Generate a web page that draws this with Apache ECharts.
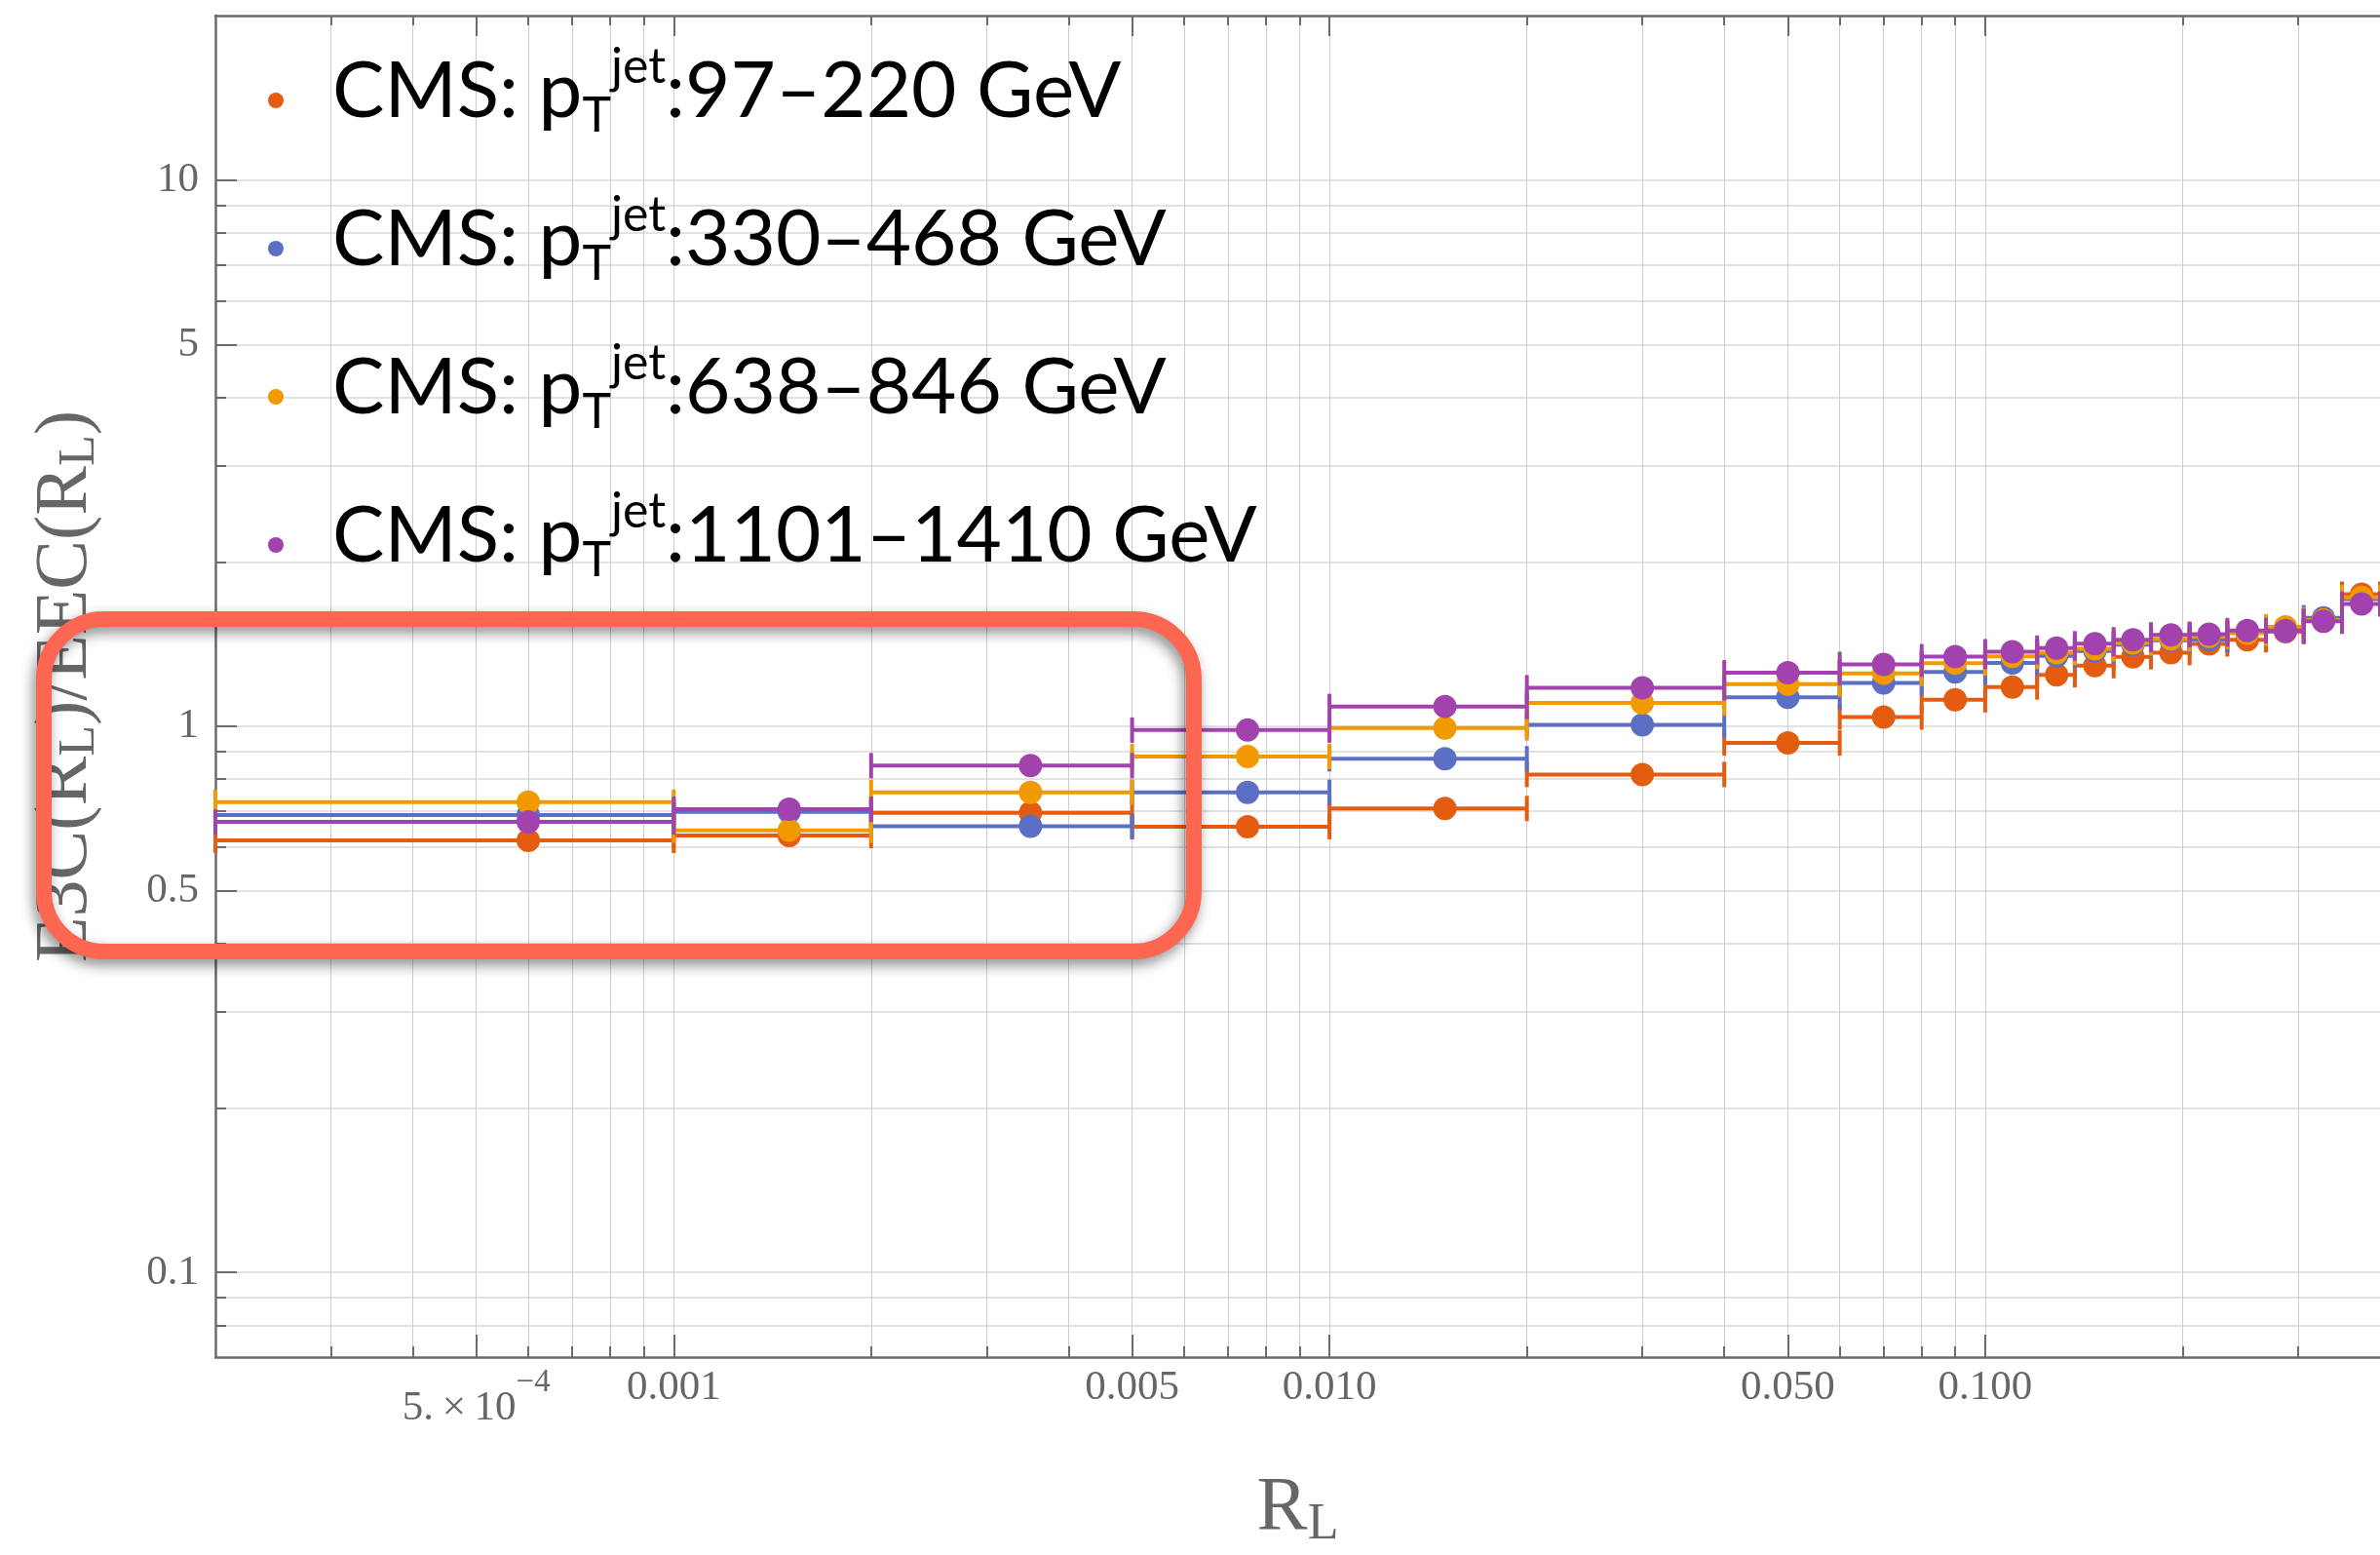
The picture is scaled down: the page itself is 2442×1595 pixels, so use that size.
<!DOCTYPE html>
<html>
<head>
<meta charset="utf-8">
<script src="https://cdn.jsdelivr.net/npm/echarts@6/dist/echarts.min.js"></script>
<style>
  html, body { margin: 0; padding: 0; background: #ffffff; }
  #chart { width: 2442px; height: 1595px; }
</style>
</head>
<body>
<div id="chart"></div>
<script>
// R_L bins: lower edge, upper edge, and the point position inside each bin
const binLow    = [0.0002, 0.001, 0.002, 0.005, 0.01, 0.02, 0.04, 0.06, 0.08, 0.10, 0.12, 0.137, 0.157, 0.179, 0.205, 0.234, 0.268, 0.306, 0.35];
const binHigh   = [0.001, 0.002, 0.005, 0.01, 0.02, 0.04, 0.06, 0.08, 0.10, 0.12, 0.137, 0.157, 0.179, 0.205, 0.234, 0.268, 0.306, 0.35, 0.40];
const binCenter = [0.0006, 0.0015, 0.0035, 0.0075, 0.015, 0.03, 0.05, 0.07, 0.09, 0.11, 0.1285, 0.147, 0.168, 0.192, 0.2195, 0.251, 0.287, 0.328, 0.375];

// E3C/EEC ratio per jet pT range
const ratioPt97   = [0.618, 0.631, 0.694, 0.655, 0.707, 0.816, 0.932, 1.040, 1.118, 1.180, 1.242, 1.291, 1.340, 1.364, 1.415, 1.440, 1.490, 1.560, 1.745];
const ratioPt330  = [0.688, 0.697, 0.656, 0.757, 0.872, 1.006, 1.130, 1.200, 1.257, 1.306, 1.345, 1.373, 1.411, 1.437, 1.440, 1.485, 1.495, 1.580, 1.710];
const ratioPt638  = [0.726, 0.645, 0.757, 0.880, 0.993, 1.103, 1.194, 1.250, 1.305, 1.343, 1.364, 1.386, 1.420, 1.444, 1.460, 1.480, 1.520, 1.565, 1.721];
const ratioPt1101 = [0.668, 0.705, 0.847, 0.984, 1.087, 1.176, 1.253, 1.298, 1.341, 1.369, 1.390, 1.416, 1.440, 1.470, 1.474, 1.497, 1.497, 1.557, 1.674];

const ptRanges = ['97–220', '330–468', '638–846', '1101–1410'];
const seriesValues = [ratioPt97, ratioPt330, ratioPt638, ratioPt1101];
const seriesColors = ['#e45c10', '#5d6fc4', '#f09a00', '#a243ad'];

// axis ticks and their labels
const xMajorTicks  = [0.0005, 0.001, 0.005, 0.01, 0.05, 0.1];
const xMajorLabels = ['{base|5.\u2009×\u200910}{sup|−4}', '0.001', '0.005', '0.010', '0.050', '0.100'];
const xAllTicks = [0.0003, 0.0004, 0.0005, 0.0006, 0.0007, 0.0008, 0.0009,
                   0.001, 0.002, 0.003, 0.004, 0.005, 0.006, 0.007, 0.008, 0.009,
                   0.01, 0.02, 0.03, 0.04, 0.05, 0.06, 0.07, 0.08, 0.09,
                   0.1, 0.2, 0.3];
const yMajorTicks  = [0.1, 0.5, 1, 5, 10];
const yMajorLabels = ['0.1', '0.5', '1', '5', '10'];
const yAllTicks = [0.08, 0.09, 0.1, 0.2, 0.3, 0.4, 0.5, 0.6, 0.7, 0.8, 0.9,
                   1, 2, 3, 4, 5, 6, 7, 8, 9, 10];

const X_MIN = 0.0002, X_MAX = 0.4, Y_MIN = 0.07, Y_MAX = 20;

const AXIS_GREY = '#6b6b6b';
const LABEL_GREY = '#666666';
const SERIF = '"Liberation Serif", "Times New Roman", serif';

function labelFor(ticks, labels) {
  return function (v) {
    let best = 0, bestDist = Infinity;
    ticks.forEach(function (t, i) {
      const d = Math.abs(Math.log10(v) - Math.log10(t));
      if (d < bestDist) { bestDist = d; best = i; }
    });
    return labels[best];
  };
}

function logAxis(extra) {
  return Object.assign({
    type: 'log',
    logBase: 10,
    splitLine: { show: false },
    minorTick: { show: false },
    minorSplitLine: { show: false },
    axisLabel: { show: false },
    axisLine: { show: false, onZero: false }
  }, extra);
}

const tickStyle = { color: AXIS_GREY, width: 2 };

const xAxes = [
  // bottom: frame line, long ticks and labels
  logAxis({
    min: X_MIN, max: X_MAX, position: 'bottom',
    axisLine: { show: true, onZero: false, lineStyle: { color: AXIS_GREY, width: 2.5 } },
    axisTick: { show: true, inside: true, length: 23, customValues: xMajorTicks, lineStyle: tickStyle },
    axisLabel: {
      show: true, customValues: xMajorTicks, margin: 10,
      formatter: labelFor(xMajorTicks, xMajorLabels),
      fontFamily: SERIF, fontSize: 43, color: LABEL_GREY,
      rich: {
        base: { fontFamily: SERIF, fontSize: 43, color: LABEL_GREY, lineHeight: 43, verticalAlign: 'bottom' },
        sup:  { fontFamily: SERIF, fontSize: 33, color: LABEL_GREY, lineHeight: 64, verticalAlign: 'top' }
      }
    },
    name: '{m|R}{s|L}',
    nameLocation: 'middle',
    nameGap: 114,
    nameTextStyle: {
      rich: {
        m: { fontFamily: SERIF, fontSize: 78, color: LABEL_GREY, lineHeight: 84 },
        s: { fontFamily: SERIF, fontSize: 52, color: LABEL_GREY, lineHeight: 43, verticalAlign: 'bottom' }
      }
    }
  }),
  // bottom: short ticks and vertical grid lines
  logAxis({
    min: X_MIN, max: X_MAX, position: 'bottom',
    axisTick: { show: true, inside: true, length: 11, customValues: xAllTicks, lineStyle: tickStyle },
    splitLine: { show: true, lineStyle: { color: '#cdcdcd', width: 1 } }
  }),
  // top frame with short ticks
  logAxis({
    min: X_MIN, max: X_MAX, position: 'top',
    axisLine: { show: true, onZero: false, lineStyle: { color: AXIS_GREY, width: 2.5 } },
    axisTick: { show: true, inside: true, length: 10, customValues: xAllTicks, lineStyle: tickStyle }
  }),
  // top frame long ticks
  logAxis({
    min: X_MIN, max: X_MAX, position: 'top',
    axisTick: { show: true, inside: true, length: 21, customValues: xMajorTicks, lineStyle: tickStyle }
  })
];

const yAxes = [
  logAxis({
    min: Y_MIN, max: Y_MAX, position: 'left',
    axisLine: { show: true, onZero: false, lineStyle: { color: AXIS_GREY, width: 2.5 } },
    axisTick: { show: true, inside: true, length: 22, customValues: yMajorTicks, lineStyle: tickStyle },
    axisLabel: {
      show: true, customValues: yMajorTicks, margin: 17,
      formatter: labelFor(yMajorTicks, yMajorLabels),
      fontFamily: SERIF, fontSize: 43, color: LABEL_GREY
    },
    name: '{m|E3C(R}{s|L}{m|)/EEC(R}{s|L}{m|)}',
    nameLocation: 'middle',
    nameRotate: 90,
    nameGap: 113,
    nameTextStyle: {
      rich: {
        m: { fontFamily: SERIF, fontSize: 76, color: LABEL_GREY, lineHeight: 80 },
        s: { fontFamily: SERIF, fontSize: 52, color: LABEL_GREY, lineHeight: 41, verticalAlign: 'bottom' }
      }
    }
  }),
  logAxis({
    min: Y_MIN, max: Y_MAX, position: 'left', offset: 0,
    axisTick: { show: true, inside: true, length: 11, customValues: yAllTicks, lineStyle: tickStyle },
    splitLine: { show: true, lineStyle: { color: '#d8d8d8', width: 1.5 } }
  })
];

// horizontal bin-width bar with end caps and a filled point
function renderBinPoint(params, api) {
  const y = api.value(2);
  const lo = api.coord([api.value(0), y]);
  const hi = api.coord([api.value(1), y]);
  const c = api.coord([api.value(3), y]);
  const color = api.visual('color');
  const capHalf = 13;
  const lineStyle = { stroke: color, lineWidth: 4 };
  return {
    type: 'group',
    children: [
      { type: 'line', shape: { x1: lo[0], y1: lo[1], x2: hi[0], y2: hi[1] }, style: lineStyle },
      { type: 'line', shape: { x1: lo[0], y1: lo[1] - capHalf, x2: lo[0], y2: lo[1] + capHalf }, style: lineStyle },
      { type: 'line', shape: { x1: hi[0], y1: hi[1] - capHalf, x2: hi[0], y2: hi[1] + capHalf }, style: lineStyle },
      { type: 'circle', shape: { cx: c[0], cy: c[1], r: 12 }, style: { fill: color } }
    ]
  };
}

const series = ptRanges.map(function (range, k) {
  return {
    type: 'custom',
    name: range,
    xAxisIndex: 0,
    yAxisIndex: 0,
    itemStyle: { color: seriesColors[k] },
    renderItem: renderBinPoint,
    encode: { x: [0, 1, 3], y: 2 },
    data: binLow.map(function (lo, i) {
      return [lo, binHigh[i], seriesValues[k][i], binCenter[i]];
    }),
    z: 2 + k
  };
});

const chart = echarts.init(document.getElementById('chart'), null, { renderer: 'canvas' });
chart.setOption({
  animation: false,
  backgroundColor: '#ffffff',
  grid: { left: 221, right: -8, top: 16, bottom: 202, containLabel: false },
  xAxis: xAxes,
  yAxis: yAxes,
  legend: {
    orient: 'vertical',
    left: 275,
    top: 44,
    padding: 0,
    itemGap: 52,
    itemWidth: 16,
    itemHeight: 16,
    icon: 'circle',
    selectedMode: false,
    data: ptRanges,
    formatter: function (name) {
      return '{m|CMS: p}{sub|T}{sup|jet}{m|:' + name + ' GeV}';
    },
    textStyle: {
      color: '#000000',
      fontFamily: 'Lato, sans-serif',
      fontSize: 80,
      padding: [0, 0, 18, 45],
      rich: {
        m:   { fontFamily: 'Lato, sans-serif', fontSize: 80, color: '#000000', lineHeight: 100 },
        sub: { fontFamily: 'Lato, sans-serif', fontSize: 50, color: '#000000', lineHeight: 53, verticalAlign: 'bottom' },
        sup: { fontFamily: 'Lato, sans-serif', fontSize: 50, color: '#000000', lineHeight: 57, verticalAlign: 'top' }
      }
    }
  },
  graphic: [{
    type: 'rect',
    z: 100,
    silent: true,
    shape: { x: 45, y: 635, width: 1180, height: 341, r: 62 },
    style: {
      fill: 'none',
      stroke: '#fd6650',
      lineWidth: 16,
      shadowBlur: 14,
      shadowColor: 'rgba(0,0,0,0.45)',
      shadowOffsetX: -3,
      shadowOffsetY: 6
    }
  }],
  series: series
});
</script>
</body>
</html>
